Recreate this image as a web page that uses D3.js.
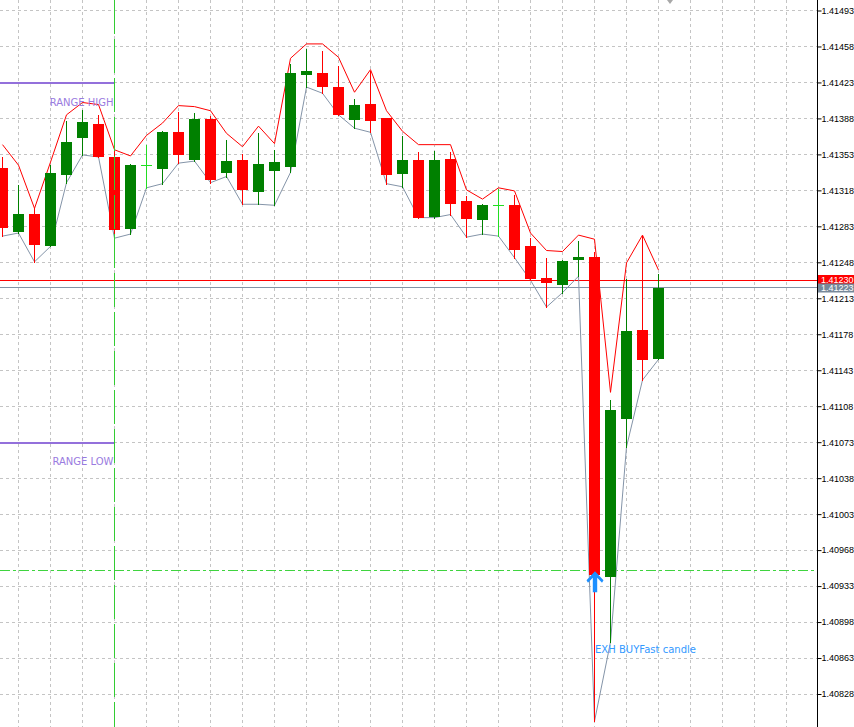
<!DOCTYPE html>
<html><head><meta charset="utf-8">
<script src="https://cdn.jsdelivr.net/npm/d3@7"></script>
<style>html,body{margin:0;padding:0;background:#fff;overflow:hidden}</style>
</head><body><svg id="c" width="854" height="727"></svg>
<script>
// ---- data (42 bars) ----
const opens  = [1.41339,1.41278,1.41295,1.41264,1.41333,1.41369,1.41382,1.41350,1.41281,1.41342,1.41339,1.41374,1.41348,1.41387,1.41335,1.41347,1.41317,1.41337,1.41341,1.41431,1.41432,1.41418,1.41387,1.41402,1.41388,1.41334,1.41347,1.41293,1.41348,1.41307,1.41290,1.41303,1.41303,1.41263,1.41232,1.41226,1.41251,1.41253,1.40942,1.41096,1.41182,1.41154];
const highs  = [1.41350,1.41323,1.41300,1.41342,1.41385,1.41396,1.41391,1.41357,1.41343,1.41362,1.41375,1.41394,1.41393,1.41390,1.41367,1.41353,1.41373,1.41357,1.41440,1.41455,1.41453,1.41439,1.41406,1.41434,1.41388,1.41370,1.41355,1.41356,1.41355,1.41312,1.41304,1.41319,1.41313,1.41271,1.41252,1.41250,1.41268,1.41258,1.41114,1.41231,1.41273,1.41236];
const lows   = [1.41273,1.41276,1.41248,1.41263,1.41325,1.41352,1.41350,1.41271,1.41275,1.41320,1.41324,1.41344,1.41346,1.41325,1.41331,1.41304,1.41304,1.41303,1.41335,1.41418,1.41412,1.41391,1.41378,1.41374,1.41324,1.41321,1.41291,1.41291,1.41294,1.41272,1.41275,1.41273,1.41252,1.41230,1.41204,1.41218,1.41234,1.40801,1.40878,1.41068,1.41133,1.41153];
const closes = [1.41282,1.41295,1.41265,1.41334,1.41365,1.41384,1.41351,1.41280,1.41342,1.41342,1.41374,1.41353,1.41387,1.41329,1.41346,1.41319,1.41343,1.41345,1.41432,1.41434,1.41419,1.41392,1.41401,1.41386,1.41333,1.41347,1.41292,1.41347,1.41305,1.41291,1.41303,1.41303,1.41260,1.41232,1.41228,1.41249,1.41253,1.40944,1.41104,1.41181,1.41153,1.41223];
const upperBand = [1.41362,1.41342,1.41300,1.41345,1.41391,1.41403,1.41401,1.41357,1.41351,1.41371,1.41383,1.41400,1.41399,1.41395,1.41373,1.41360,1.41380,1.41363,1.41446,1.41460,1.41460,1.41447,1.41413,1.41435,1.41395,1.41375,1.41362,1.41362,1.41362,1.41318,1.41309,1.41320,1.41317,1.41276,1.41259,1.41258,1.41274,1.41270,1.41121,1.41247,1.41274,1.41240];
const lowerBand = lows.slice();
const tickLabels = ["1.41493","1.41458","1.41423","1.41388","1.41353","1.41318","1.41283","1.41248","1.41213","1.41178","1.41143","1.41108","1.41073","1.41038","1.41003","1.40968","1.40933","1.40898","1.40863","1.40828"];
const rangeHigh = 1.41423, rangeLow = 1.41073;
const askPrice = 1.41230, bidPrice = 1.41223;
const signalLevel = 1.40948;
const rangeEndBar = 7, signalBar = 37;
const labels = {high:"RANGE HIGH", low:"RANGE LOW", signal:"EXH BUYFast candle"};

// ---- layout ----
const W = 854, H = 727, axisX = 817;
const svg = d3.select("#c");
const x = d3.scaleLinear().domain([0, 41]).range([2.5, 658.5]);
const y = d3.scaleLinear().domain([1.41493, 1.40828]).range([10, 693.5]);
const ticks = tickLabels.map(Number);
const py = v => Math.round(y(v)) + 0.5;

svg.append("rect").attr("width", W).attr("height", H).attr("fill", "#fff");

// grid
const grid = svg.append("g").attr("stroke", "#c4c4c4").attr("stroke-dasharray", "3,3").attr("stroke-width", 1);
ticks.forEach(t => grid.append("line").attr("x1", 0).attr("x2", axisX).attr("y1", py(t)).attr("y2", py(t)));
for (let k = 1; x(k) < axisX; k += 2) {
  grid.append("line").attr("x1", x(k)).attr("x2", x(k)).attr("y1", 0).attr("y2", H);
}

// top shift marker
svg.append("path").attr("d", "M667,0 L673,0 L670,4 Z").attr("fill", "#a8a8a8");

// ask / bid lines
svg.append("line").attr("x1", 0).attr("x2", axisX).attr("y1", py(askPrice)).attr("y2", py(askPrice)).attr("stroke", "#ff0000");
svg.append("line").attr("x1", 0).attr("x2", axisX).attr("y1", py(bidPrice) - 1).attr("y2", py(bidPrice) - 1).attr("stroke", "#8393a6");

// signal level (dash-dot)
svg.append("line").attr("x1", 0).attr("x2", axisX).attr("y1", py(signalLevel)).attr("y2", py(signalLevel))
  .attr("stroke", "#3fd43f").attr("stroke-dasharray", "10,3,3,3");

// range lines
[rangeHigh, rangeLow].forEach(v => {
  svg.append("line").attr("x1", 0).attr("x2", x(rangeEndBar) + 0.5).attr("y1", Math.round(y(v)) + 1).attr("y2", Math.round(y(v)) + 1)
    .attr("stroke", "#9370DB").attr("stroke-width", 2);
});

// band lines
const idx = d3.range(opens.length);
const lineGen = arr => d3.line().x(i => x(i)).y(i => y(arr[i]))(idx);
svg.append("path").attr("d", lineGen(lowerBand)).attr("fill", "none").attr("stroke", "#8494a8").attr("stroke-width", 1);
svg.append("path").attr("d", lineGen(upperBand)).attr("fill", "none").attr("stroke", "#ff0000").attr("stroke-width", 1);

// candles
const cg = svg.append("g");
idx.forEach(i => {
  const o = opens[i], c = closes[i], h = highs[i], l = lows[i];
  const cx = x(i);
  const doji = o === c;
  const col = doji ? "#22dd22" : (c > o ? "#008000" : "#ff0000");
  cg.append("line").attr("x1", cx).attr("x2", cx).attr("y1", Math.round(y(h))).attr("y2", Math.round(y(l)) + 1)
    .attr("stroke", col).attr("stroke-width", 1);
  if (doji) {
    cg.append("line").attr("x1", cx - 5.5).attr("x2", cx + 5.5).attr("y1", py(o)).attr("y2", py(o)).attr("stroke", col);
  } else {
    const top = Math.round(y(Math.max(o, c))), bot = Math.round(y(Math.min(o, c)));
    cg.append("rect").attr("x", cx - 5.5).attr("y", top).attr("width", 11).attr("height", Math.max(bot - top, 1) + 1)
      .attr("fill", col);
  }
});

// vertical range-end line (foreground)
svg.append("line").attr("x1", x(rangeEndBar)).attr("x2", x(rangeEndBar)).attr("y1", 0).attr("y2", H)
  .attr("stroke", "#33cc33").attr("stroke-dasharray", "34,5");

// range labels
const lblFont = "DejaVu Sans, sans-serif";
const axFont = "Liberation Sans, Arial, sans-serif";
svg.append("text").attr("x", x(rangeEndBar) - 1).attr("y", y(rangeHigh) + 24).attr("text-anchor", "end")
  .attr("font-family", lblFont).attr("font-size", 10).attr("fill", "#9a7be0").text(labels.high);
svg.append("text").attr("x", x(rangeEndBar) - 1).attr("y", y(rangeLow) + 23.5).attr("text-anchor", "end")
  .attr("font-family", lblFont).attr("font-size", 10).attr("fill", "#9a7be0").text(labels.low);

// signal arrow
const ax = x(signalBar) + 0.5, ay = y(signalLevel) + 1;
const arrowPts = [[0,0],[8.5,9],[7,11.5],[2.2,6.5],[2.2,21],[-2.2,21],[-2.2,6.5],[-7,11.5],[-8.5,9]];
svg.append("path").attr("d", "M" + arrowPts.map(p => (ax + p[0]) + "," + (ay + p[1])).join("L") + "Z").attr("fill", "#1e90ff");
svg.append("text").attr("x", x(signalBar) + 0.5).attr("y", y(signalLevel) + 83)
  .attr("font-family", lblFont).attr("font-size", 10).attr("fill", "#3399ff")
  .attr("textLength", 101).attr("lengthAdjust", "spacingAndGlyphs").text(labels.signal);

// axis
svg.append("rect").attr("x", axisX).attr("y", 0).attr("width", W - axisX).attr("height", H).attr("fill", "#fff");
const axis = d3.axisRight(y).tickValues(ticks).tickFormat(d3.format(".5f")).tickSize(4).tickPadding(0);
const ag = svg.append("g").attr("transform", `translate(${axisX + 0.5},0.5)`).call(axis);
ag.select(".domain").remove();
ag.selectAll("text").attr("font-family", axFont).attr("font-size", 9).attr("fill", "#000");
ag.selectAll("line").attr("stroke", "#000");
svg.append("line").attr("x1", axisX + 0.5).attr("x2", axisX + 0.5).attr("y1", 0).attr("y2", H).attr("stroke", "#000");

// price tags
const tag = (v, fill, dy) => {
  const cy = Math.round(y(v)) + dy;
  svg.append("rect").attr("x", axisX + 1).attr("y", cy - 4.5).attr("width", W - axisX).attr("height", 9).attr("fill", fill);
  svg.append("text").attr("x", axisX + 4).attr("y", cy).attr("dy", "0.36em").attr("font-family", axFont).attr("font-size", 9)
    .attr("fill", "#fff").text(d3.format(".5f")(v));
};
tag(askPrice, "#ff0000", -0.5);
tag(bidPrice, "#778899", 0);
</script></body></html>
